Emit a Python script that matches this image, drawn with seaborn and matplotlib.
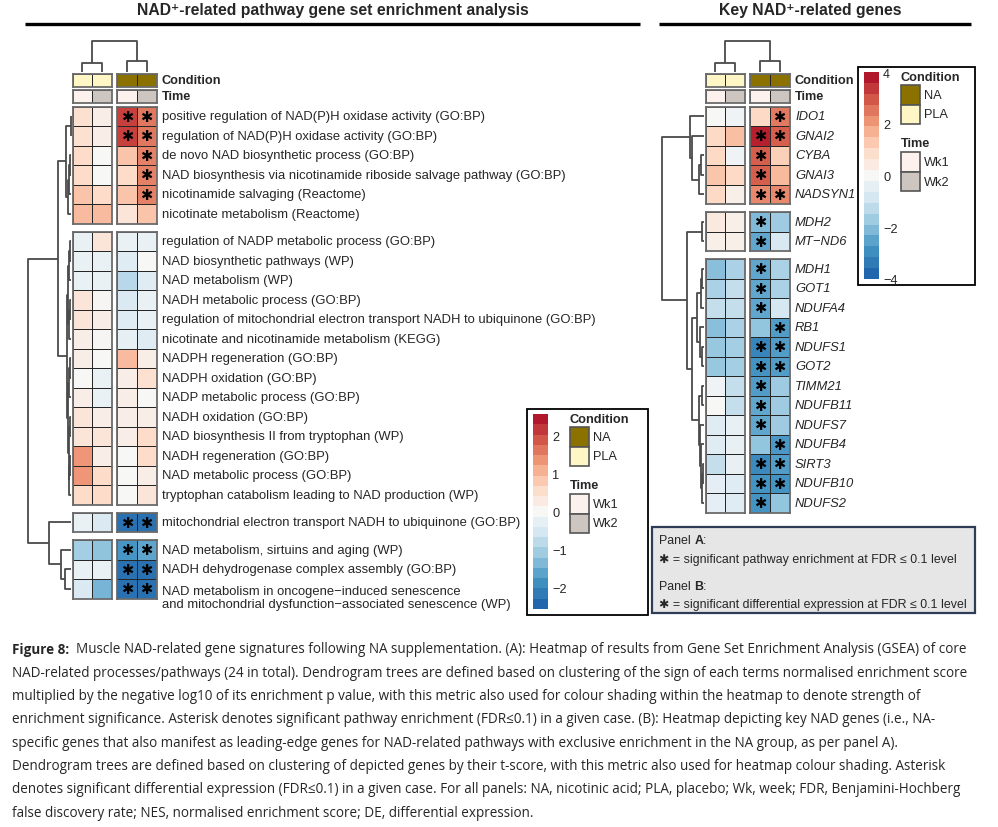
import numpy as np
import pandas as pd
import matplotlib
matplotlib.use("Agg")
import matplotlib.pyplot as plt
import seaborn as sns
from matplotlib.colors import LinearSegmentedColormap, ListedColormap, BoundaryNorm
from matplotlib.patches import Rectangle
from matplotlib.cm import ScalarMappable

sns.set_theme(style="white")
plt.rcParams['font.family'] = ['Liberation Sans', 'DejaVu Sans']

# %% data
samples = ['PLA_Wk1', 'PLA_Wk2', 'NA_Wk1', 'NA_Wk2']
condition = ['PLA', 'PLA', 'NA', 'NA']
time = ['Wk1', 'Wk2', 'Wk1', 'Wk2']

pathways = [
    'positive regulation of NAD(P)H oxidase activity (GO:BP)',
    'regulation of NAD(P)H oxidase activity (GO:BP)',
    'de novo NAD biosynthetic process (GO:BP)',
    'NAD biosynthesis via nicotinamide riboside salvage pathway (GO:BP)',
    'nicotinamide salvaging (Reactome)',
    'nicotinate metabolism (Reactome)',
    'regulation of NADP metabolic process (GO:BP)',
    'NAD biosynthetic pathways (WP)',
    'NAD metabolism (WP)',
    'NADH metabolic process (GO:BP)',
    'regulation of mitochondrial electron transport NADH to ubiquinone (GO:BP)',
    'nicotinate and nicotinamide metabolism (KEGG)',
    'NADPH regeneration (GO:BP)',
    'NADPH oxidation (GO:BP)',
    'NADP metabolic process (GO:BP)',
    'NADH oxidation (GO:BP)',
    'NAD biosynthesis II from tryptophan (WP)',
    'NADH regeneration (GO:BP)',
    'NAD metabolic process (GO:BP)',
    'tryptophan catabolism leading to NAD production (WP)',
    'mitochondrial electron transport NADH to ubiquinone (GO:BP)',
    'NAD metabolism, sirtuins and aging (WP)',
    'NADH dehydrogenase complex assembly (GO:BP)',
    'NAD metabolism in oncogene\u2212induced senescence\nand mitochondrial dysfunction\u2212associated senescence (WP)',
]
pathway_cluster = [1]*6 + [2]*14 + [3] + [4]*3
gsea_pla_wk1 = [0.5, 0.5, 0.6, 0.6, 0.9, 1.0, -0.2, -0.2, -0.2, 0.4, 0.4, 0.2, 0.2, 0.0,
                0.2, 0.4, 0.4, 1.4, 1.4, 0.6, -0.2, -1.1, -0.2, -0.5]
gsea_pla_wk2 = [0.2, 0.2, 0.0, 0.0, 0.6, 1.0, 0.4, -0.2, -0.2, 0.05, 0.2, 0.05, 0.0, -0.2,
                -0.2, 0.2, 0.4, 0.2, 0.6, 0.6, -0.5, -1.3, -0.2, -1.5]
gsea_na_wk1 = [2.2, 2.2, 0.9, 0.6, 0.9, 0.4, -0.2, -0.4, -0.9, -0.5, -0.4, -0.3, 1.0, 0.2,
               0.2, 0.2, 0.2, 0.0, 0.0, 0.0, -2.4, -1.9, -2.4, -2.4]
gsea_na_wk2 = [1.7, 1.7, 1.6, 1.6, 1.6, 0.9, -0.2, 0.0, -0.4, -0.2, -0.2, -0.4, 0.2, 0.5,
               0.0, 0.2, 0.6, 0.6, 0.2, 0.4, -2.4, -1.7, -2.4, -2.4]
gsea_sig_na_wk1 = [1, 1, 0, 0, 0, 0] + [0]*14 + [1, 1, 1, 1]
gsea_sig_na_wk2 = [1, 1, 1, 1, 1, 0] + [0]*14 + [1, 1, 1, 1]

genes = ['IDO1', 'GNAI2', 'CYBA', 'GNAI3', 'NADSYN1', 'MDH2', 'MT\u2212ND6', 'MDH1', 'GOT1',
         'NDUFA4', 'RB1', 'NDUFS1', 'GOT2', 'TIMM21', 'NDUFB11', 'NDUFS7', 'NDUFB4', 'SIRT3',
         'NDUFB10', 'NDUFS2']
gene_cluster = [1]*5 + [2]*2 + [3]*13
t_pla_wk1 = [0.0, 1.0, 1.0, 1.4, 1.0, 0.5, 0.3, -2.1, -1.6, -1.2, -2.1, -1.9, -1.9, -0.2,
             0.0, -0.6, -0.6, -1.2, -0.5, -0.5]
t_pla_wk2 = [-0.2, 1.5, -0.2, 1.0, 0.3, 0.3, 0.3, -1.6, -1.2, -1.2, -1.6, -1.7, -1.7, -1.2,
             -1.2, -0.4, -0.4, -0.4, -0.6, -0.6]
t_na_wk1 = [1.0, 3.9, 3.0, 3.0, 2.4, -2.2, -2.6, -2.6, -2.6, -2.6, -2.0, -3.3, -3.0, -2.8,
            -2.6, -2.6, -2.0, -3.2, -3.0, -3.0]
t_na_wk2 = [2.6, 3.0, 1.2, 1.6, 2.4, -1.8, -0.8, -1.6, -1.6, -0.9, -2.8, -2.8, -2.8, -1.8,
            -1.8, -1.8, -2.9, -2.8, -3.0, -2.0]
de_sig_na_wk1 = [0, 1, 1, 1, 1, 1, 1, 1, 1, 1, 0, 1, 1, 1, 1, 1, 0, 1, 1, 1]
de_sig_na_wk2 = [1, 1, 0, 0, 1, 0, 0, 0, 0, 0, 1, 1, 1, 0, 0, 0, 1, 1, 1, 0]

# dendrograms: (left, right, height), leaves = row index
gsea_c1 = ((0, 1, 0.1), (((2, 3, 0.2), 4, 0.4), 5, 0.7), 1.2)
gsea_c2 = ((((6, 7, 0.3), 8, 0.5), ((9, 10, 0.2), 11, 0.4), 0.7),
           (((12, 13, 0.3), 14, 0.4), ((15, 16, 0.2), ((17, 18, 0.25), 19, 0.4), 0.5), 0.6), 1.0)
gsea_row_tree = ((gsea_c1, gsea_c2, 3.1), (20, (21, (22, 23, 1.4), 2.4), 5.0), 10.0)
gene_c1 = (0, (1, ((2, 3, 0.6), 4, 1.1), 2.8), 3.3)
gene_c3 = ((((7, 8, 0.4), 9, 0.8), (10, (11, 12, 0.4), 0.9), 1.6),
           ((13, 14, 0.5), (15, (16, ((17, 18, 0.3), 19, 0.5), 0.7), 0.9), 1.3), 2.8)
gene_row_tree = (gene_c1, ((5, 6, 0.5), gene_c3, 4.0), 10.0)
gsea_col_tree = ((0, 1, 2.9), (2, 3, 3.5), 10.0)
gene_col_tree = ((0, 1, 3.0), (2, 3, 3.4), 10.0)

# colours
heat_colors = ["#2166ac", "#4393c3", "#92c5de", "#d1e5f0", "#f7f7f7",
               "#fddbc7", "#f4a582", "#d6604d", "#b2182b"]
cond_colors = {'NA': '#8b7100', 'PLA': '#fff6c6'}
time_colors = {'Wk1': '#fdf1ee', 'Wk2': '#cdc5c0'}

# %% figure
W, H = 998, 828
fig = plt.figure(figsize=(W / 100, H / 100), dpi=100)
cmap = LinearSegmentedColormap.from_list('nad', heat_colors)


def px_rect(x0, y0, x1, y1):
    return [x0 / W, 1 - y1 / H, (x1 - x0) / W, (y1 - y0) / H]


bg = fig.add_axes([0, 0, 1, 1])
bg.set_xlim(0, W)
bg.set_ylim(H, 0)
bg.axis('off')

ROW_H, GAP, TOP = 19.5, 8, 107.5
LABEL_FS = 9.4


def row_layout(clusters):
    centers, spans = [], {}
    y = TOP
    prev = clusters[0]
    for c in clusters:
        if c != prev:
            y += GAP
            prev = c
        spans.setdefault(c, [y, y])
        centers.append(y + ROW_H / 2)
        y += ROW_H
        spans[c][1] = y
    return centers, spans


def draw_tree(node, pos, base, scale, rows, color='#4a4a4a'):
    if isinstance(node, int):
        return pos[node], 0.0
    a, b, h = node
    pa, ha = draw_tree(a, pos, base, scale, rows, color)
    pb, hb = draw_tree(b, pos, base, scale, rows, color)
    d = [base - s * scale for s in (ha, h, h, hb)]
    p = [pa, pa, pb, pb]
    if rows:
        bg.plot(d, p, color=color, lw=1.3, solid_capstyle='butt')
    else:
        bg.plot(p, d, color=color, lw=1.3, solid_capstyle='butt')
    return (pa + pb) / 2, h


def block_frame(ax):
    for s in ax.spines.values():
        s.set_visible(True)
        s.set_color('#6b6b6b')
        s.set_linewidth(1.3)


def draw_panel(names, clusters, cols, sigs, col_x, label_x, vmax, italic, row_tree, col_tree,
               dend_root_x):
    df = pd.DataFrame(dict(zip(samples, cols)), index=names)
    stars = pd.DataFrame({'PLA_Wk1': [''] * len(names), 'PLA_Wk2': [''] * len(names),
                          'NA_Wk1': ['\u2731' if s else '' for s in sigs[0]],
                          'NA_Wk2': ['\u2731' if s else '' for s in sigs[1]]}, index=names)
    centers, spans = row_layout(clusters)
    blocks = [samples[:2], samples[2:]]
    for bi, (x0, x1) in enumerate(col_x):
        for c, (y0, y1) in spans.items():
            idx = [n for n, cc in zip(names, clusters) if cc == c]
            ax = fig.add_axes(px_rect(x0, y0, x1, y1))
            sns.heatmap(df.loc[idx, blocks[bi]], ax=ax, cmap=cmap, vmin=-vmax, vmax=vmax,
                        cbar=False, linewidths=0.7, linecolor='#262626',
                        xticklabels=False, yticklabels=False,
                        annot=stars.loc[idx, blocks[bi]], fmt='',
                        annot_kws={'color': 'black', 'fontsize': 10.5, 'family': 'DejaVu Sans'})
            ax.set_xlabel('')
            ax.set_ylabel('')
            block_frame(ax)
        # annotation rows
        for ann, (y0, y1), cmapping in (('cond', (75, 88), cond_colors), ('time', (91, 104), time_colors)):
            keys = list(cmapping.keys())
            vals = condition if ann == 'cond' else time
            codes = pd.DataFrame([[keys.index(v) for v in vals[bi * 2:bi * 2 + 2]]])
            ax = fig.add_axes(px_rect(x0, y0, x1, y1))
            sns.heatmap(codes, ax=ax, cmap=ListedColormap([cmapping[k] for k in keys]),
                        vmin=-0.5, vmax=len(keys) - 0.5, cbar=False, linewidths=0.7,
                        linecolor='#262626', xticklabels=False, yticklabels=False)
            block_frame(ax)
    bg.text(label_x, 81.5, 'Condition', fontsize=9.2, fontweight='bold', va='center')
    bg.text(label_x, 97.5, 'Time', fontsize=9.2, fontweight='bold', va='center')
    for n, y in zip(names, centers):
        yy = y + 9 if '\n' in n else y
        bg.text(label_x, yy, n, fontsize=LABEL_FS, va='center', linespacing=1.1,
                style='italic' if italic else 'normal')
    # dendrograms
    leaf_x = col_x[0][0] - 1.5
    draw_tree(row_tree, centers, leaf_x, (leaf_x - dend_root_x) / 10.0, True)
    col_centers = []
    for x0, x1 in col_x:
        w = (x1 - x0) / 2
        col_centers += [x0 + w / 2, x0 + 1.5 * w]
    draw_tree(col_tree, col_centers, 73, 3.1, False)


draw_panel(pathways, pathway_cluster, [gsea_pla_wk1, gsea_pla_wk2, gsea_na_wk1, gsea_na_wk2],
           [gsea_sig_na_wk1, gsea_sig_na_wk2], [(72.5, 112), (117, 156.5)], 162, 2.56, False,
           gsea_row_tree, gsea_col_tree, 28)
draw_panel(genes, gene_cluster, [t_pla_wk1, t_pla_wk2, t_na_wk1, t_na_wk2],
           [de_sig_na_wk1, de_sig_na_wk2], [(705.5, 745), (750, 789.5)], 795, 4.0, True,
           gene_row_tree, gene_col_tree, 662)

# titles
bg.text(333, 11, 'NAD\u207a-related pathway gene set enrichment analysis', ha='center', va='center',
        fontsize=11.3, fontweight='bold')
bg.text(810, 11, 'Key NAD\u207a-related genes', ha='center', va='center',
        fontsize=11.3, fontweight='bold')
bg.plot([25, 640], [25, 25], color='black', lw=2.4, solid_capstyle='butt')
bg.plot([659, 971], [25, 25], color='black', lw=2.4, solid_capstyle='butt')


# legends
def legend_box(x0, y0, x1, y1, vmax, ticks):
    bg.add_patch(Rectangle((x0, y0), x1 - x0, y1 - y0, fill=False, ec='black', lw=1.3))
    cax = fig.add_axes(px_rect(x0 + 6, y0 + 5, x0 + 21, y1 - 6))
    bounds = np.linspace(-vmax, vmax, 20)
    cols = [cmap(v) for v in np.linspace(0, 1, 19)]
    cb = fig.colorbar(ScalarMappable(norm=BoundaryNorm(bounds, 19), cmap=ListedColormap(cols)),
                      cax=cax, ticks=ticks)
    cb.outline.set_visible(False)
    cb.minorticks_off()
    cax.tick_params(which='both', length=0, pad=3, labelsize=9.2)
    cax.set_yticklabels([str(t).replace('-', '\u2212') for t in ticks])
    lx = x0 + 43
    bg.text(lx, y0 + 10, 'Condition', fontsize=9.2, fontweight='bold', va='center')
    for k, (lab, colr) in enumerate(cond_colors.items()):
        yy = y0 + 18 + k * 19.5
        bg.add_patch(Rectangle((lx, yy), 19, 19.5, fc=colr, ec='#555555', lw=1.2))
        bg.text(lx + 23, yy + 10, lab, fontsize=9.2, va='center')
    bg.text(lx, y0 + 76, 'Time', fontsize=9.2, fontweight='bold', va='center')
    for k, (lab, colr) in enumerate(time_colors.items()):
        yy = y0 + 85 + k * 19.5
        bg.add_patch(Rectangle((lx, yy), 19, 19.5, fc=colr, ec='#555555', lw=1.2))
        bg.text(lx + 23, yy + 10, lab, fontsize=9.2, va='center')


legend_box(527, 410, 648, 616, 2.56, [-2, -1, 0, 1, 2])
legend_box(858, 68, 975, 286, 4.0, [-4, -2, 0, 2, 4])

# notes box
bg.add_patch(Rectangle((652, 528), 323, 86, fc='#e6e6e6', ec='#2e3d55', lw=1.6))
fig.canvas.draw()
rend = fig.canvas.get_renderer()


def mixed(x, y, parts, fs, family=None, **kw):
    for txt, bold in parts:
        t = bg.text(x, y, txt, fontsize=fs, fontweight='bold' if bold else 'normal',
                    va='center', family=family, **kw)
        bb = t.get_window_extent(renderer=rend)
        x += bb.width * W / fig.bbox.width


NOTE_FS = 8.95
mixed(659, 541, [('Panel ', False), ('A', True), (':', False)], NOTE_FS)
mixed(659, 560, [('\u2731 = significant pathway enrichment at FDR \u2264 0.1 level', False)], NOTE_FS)
mixed(659, 587, [('Panel ', False), ('B', True), (':', False)], NOTE_FS)
mixed(659, 605, [('\u2731 = significant differential expression at FDR \u2264 0.1 level', False)], NOTE_FS)

# caption
caption = [
    'Muscle NAD-related gene signatures following NA supplementation. (A): Heatmap of results from Gene Set Enrichment Analysis (GSEA) of core',
    'NAD-related processes/pathways (24 in total). Dendrogram trees are defined based on clustering of the sign of each terms normalised enrichment score',
    'multiplied by the negative log10 of its enrichment p value, with this metric also used for colour shading within the heatmap to denote strength of',
    'enrichment significance. Asterisk denotes significant pathway enrichment (FDR\u22640.1) in a given case. (B): Heatmap depicting key NAD genes (i.e., NA-',
    'specific genes that also manifest as leading-edge genes for NAD-related pathways with exclusive enrichment in the NA group, as per panel A).',
    'Dendrogram trees are defined based on clustering of depicted genes by their t-score, with this metric also used for heatmap colour shading. Asterisk',
    'denotes significant differential expression (FDR\u22640.1) in a given case. For all panels: NA, nicotinic acid; PLA, placebo; Wk, week; FDR, Benjamini-Hochberg',
    'false discovery rate; NES, normalised enrichment score; DE, differential expression.',
]
cap_font = ['Open Sans', 'DejaVu Sans']
CAP_FS = 9.72
mixed(12, 650, [('Figure 8:', True), ('  ' + caption[0], False)], CAP_FS, family=cap_font)
for i, line in enumerate(caption[1:]):
    bg.text(12, 650 + (i + 1) * 23.3, line, fontsize=CAP_FS, va='center', family=cap_font)

fig.savefig('out.png', dpi=100)
